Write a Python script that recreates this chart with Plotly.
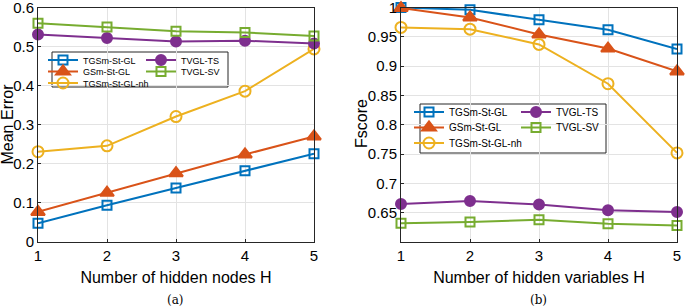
import plotly.graph_objects as go

H = [1, 2, 3, 4, 5]
series_names = ["TGSm-St-GL", "GSm-St-GL", "TGSm-St-GL-nh", "TVGL-TS", "TVGL-SV"]

mean_error_tgsm = [0.048, 0.094, 0.138, 0.182, 0.226]
mean_error_gsm = [0.077, 0.126, 0.176, 0.224, 0.270]
mean_error_nh = [0.231, 0.246, 0.321, 0.386, 0.494]
mean_error_tvgl_ts = [0.531, 0.522, 0.513, 0.515, 0.508]
mean_error_tvgl_sv = [0.560, 0.550, 0.539, 0.536, 0.527]

fscore_tgsm = [1.000, 0.996, 0.979, 0.962, 0.929]
fscore_gsm = [0.999, 0.983, 0.954, 0.930, 0.891]
fscore_nh = [0.966, 0.963, 0.937, 0.870, 0.752]
fscore_tvgl_ts = [0.665, 0.670, 0.664, 0.654, 0.651]
fscore_tvgl_sv = [0.632, 0.634, 0.638, 0.631, 0.628]

left_y_ticks = [0, 0.1, 0.2, 0.3, 0.4, 0.5, 0.6]
left_y_labels = ["0", "0.1", "0.2", "0.3", "0.4", "0.5", "0.6"]
right_y_ticks = [0.65, 0.7, 0.75, 0.8, 0.85, 0.9, 0.95, 1.0]
right_y_labels = ["0.65", "0.7", "0.75", "0.8", "0.85", "0.9", "0.95", "1"]

colors = ["#0072BD", "#D95319", "#EDB120", "#7E2F8E", "#77AC30"]
symbols = ["square-open", "triangle-up", "circle-open", "circle", "square-open"]
sizes = [9, 12, 11, 10, 9]

W, Hpx = 685, 307
FONT = "Liberation Sans, Arial, sans-serif"

# legend cell positions (px): one legend per entry, laid out in 2 columns like the original
left_leg_pos = [(43, 60), (43, 71.5), (43, 83), (141, 60), (141, 71.5)]
right_leg_pos = [(409, 112), (409, 127.5), (409, 143), (516, 112), (516, 127.5)]

fig = go.Figure()

left_data = [mean_error_tgsm, mean_error_gsm, mean_error_nh, mean_error_tvgl_ts, mean_error_tvgl_sv]
right_data = [fscore_tgsm, fscore_gsm, fscore_nh, fscore_tvgl_ts, fscore_tvgl_sv]

legend_layout = {}
for panel, (data, xa, ya, pos, fsize) in enumerate([
        (left_data, "x", "y", left_leg_pos, 9),
        (right_data, "x2", "y2", right_leg_pos, 10)]):
    for i, name in enumerate(series_names):
        idx = panel * 5 + i + 1
        lname = "legend" if idx == 1 else f"legend{idx}"
        fig.add_trace(go.Scatter(
            x=H, y=data[i], name=name, mode="lines+markers",
            line=dict(color=colors[i], width=2),
            marker=dict(symbol=symbols[i], size=sizes[i], color=colors[i],
                        line=dict(color=colors[i], width=2)),
            cliponaxis=False, xaxis=xa, yaxis=ya, legend=lname, showlegend=True))
        px_, py_ = pos[i]
        legend_layout[lname] = dict(
            x=px_ / W, y=1 - py_ / Hpx, xanchor="left", yanchor="middle",
            bgcolor="rgba(0,0,0,0)", font=dict(size=fsize, family=FONT, color="#000000"),
            itemwidth=30, visible=True)

ydom = [1 - 242 / Hpx, 1 - 7.5 / Hpx]
axis_common = dict(showline=True, mirror=True, linecolor="#262626", linewidth=1,
                   showgrid=True, gridcolor="#e3e3e3", gridwidth=1, zeroline=False,
                   ticks="inside", ticklen=3, tickcolor="#262626",
                   ticklabeloverflow="allow", automargin=False,
                   tickfont=dict(family=FONT, size=15, color="#000000"))

fig.update_layout(
    width=W, height=Hpx, margin=dict(l=0, r=0, t=0, b=0, autoexpand=False),
    paper_bgcolor="white", plot_bgcolor="white",
    font=dict(family=FONT, color="#000000"),
    showlegend=True,
    xaxis=dict(domain=[38 / W, 314 / W], range=[1, 5], tickvals=H, anchor="y",
               title=dict(text="Number of hidden nodes H", font=dict(size=16), standoff=8),
               **axis_common),
    yaxis=dict(domain=ydom, range=[0, 0.6], tickvals=left_y_ticks, ticktext=left_y_labels,
               anchor="x", **axis_common),
    xaxis2=dict(domain=[401 / W, 677 / W], range=[1, 5], tickvals=H, anchor="y2",
                title=dict(text="Number of hidden variables H", font=dict(size=16), standoff=8),
                **axis_common),
    yaxis2=dict(domain=ydom, range=[0.6, 1.0], tickvals=right_y_ticks, ticktext=right_y_labels,
                anchor="x2", **axis_common),
    shapes=[
        dict(type="rect", xref="paper", yref="paper", x0=52 / W, x1=228 / W,
             y0=1 - 87 / Hpx, y1=1 - 52 / Hpx, line=dict(color="#262626", width=1),
             fillcolor="white", layer="between"),
        dict(type="rect", xref="paper", yref="paper", x0=420 / W, x1=606 / W,
             y0=1 - 153 / Hpx, y1=1 - 104 / Hpx, line=dict(color="#262626", width=1),
             fillcolor="white", layer="between"),
    ],
    annotations=[
        dict(text="Mean Error", x=7.5 / W, y=1 - 124 / Hpx, xref="paper", yref="paper",
             xanchor="center", yanchor="middle", textangle=-90,
             showarrow=False, font=dict(family=FONT, size=16)),
        dict(text="Fscore", x=362 / W, y=1 - 124 / Hpx, xref="paper", yref="paper",
             xanchor="center", yanchor="middle", textangle=-90,
             showarrow=False, font=dict(family=FONT, size=16)),
        dict(text="(a)", x=175 / W, y=1 - 300 / Hpx, xref="paper", yref="paper",
             xanchor="center", yanchor="middle",
             showarrow=False, font=dict(family="DejaVu Serif, serif", size=12)),
        dict(text="(b)", x=538 / W, y=1 - 300 / Hpx, xref="paper", yref="paper",
             xanchor="center", yanchor="middle",
             showarrow=False, font=dict(family="DejaVu Serif, serif", size=12)),
    ],
)
fig.update_layout(**legend_layout)

fig.write_html(
    "out.html",
    config={"displayModeBar": False},
    post_script="document.body.style.margin='0';document.body.style.overflow='hidden';",
)
